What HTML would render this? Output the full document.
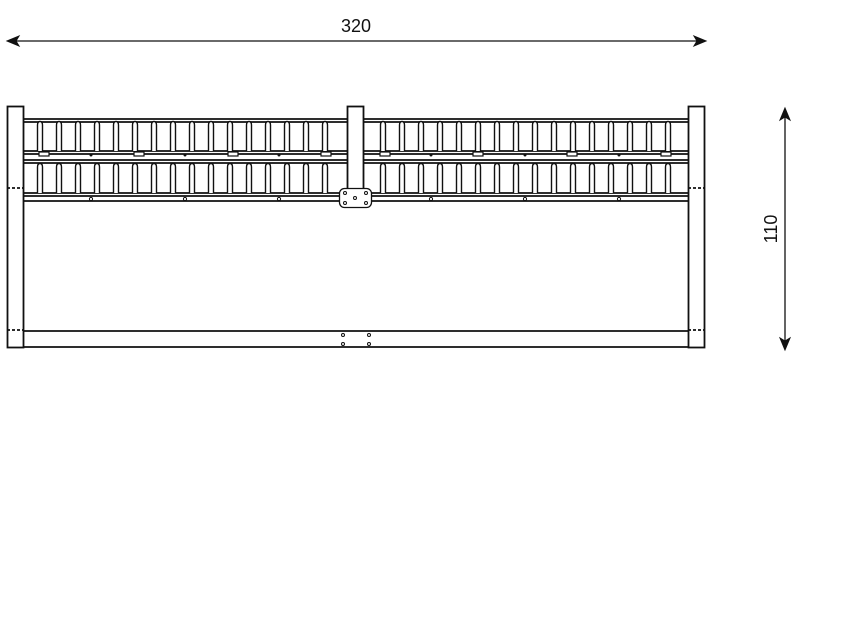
<!DOCTYPE html>
<html><head><meta charset="utf-8"><style>
html,body{margin:0;padding:0;background:#fff;width:844px;height:631px;overflow:hidden}
svg{display:block}
text{font-family:"Liberation Sans",sans-serif;font-size:18px;fill:#111}
</style></head><body>
<svg width="844" height="631" viewBox="0 0 844 631" xmlns="http://www.w3.org/2000/svg">
<defs>
<g id="s">
<path d="M0.5 151 V125 Q0.5 121.5 3 121.5 Q5.5 121.5 5.5 125 V151" fill="#fff" stroke="#111" stroke-width="1.4"/>
<path d="M0.5 193 V167 Q0.5 163.5 3 163.5 Q5.5 163.5 5.5 167 V193" fill="#fff" stroke="#111" stroke-width="1.4"/>
</g>
</defs>
<g stroke="#111" fill="none">
<line x1="9" y1="41" x2="704" y2="41" stroke-width="1.3"/>
<path d="M7 41 L19 36 L16 41 L19 46 Z M706 41 L694 36 L697 41 L694 46 Z" fill="#111"/>
<line x1="785" y1="110" x2="785" y2="348" stroke-width="1.3"/>
<path d="M785 108 L780 120 L785 117 L790 120 Z M785 350 L780 338 L785 341 L790 338 Z" fill="#111"/>
<g stroke-width="1.8">
<line x1="23" y1="119" x2="688" y2="119"/>
<line x1="23" y1="122" x2="688" y2="122"/>
<line x1="23" y1="151" x2="688" y2="151"/>
<line x1="23" y1="154" x2="688" y2="154"/>
<line x1="23" y1="160" x2="688" y2="160"/>
<line x1="23" y1="163" x2="688" y2="163"/>
<line x1="23" y1="193" x2="688" y2="193"/>
<line x1="23" y1="196" x2="688" y2="196"/>
<line x1="23" y1="201" x2="688" y2="201"/>
</g>
</g>
<use href="#s" x="37"/><use href="#s" x="56"/><use href="#s" x="75"/><use href="#s" x="94"/>
<use href="#s" x="113"/><use href="#s" x="132"/><use href="#s" x="151"/><use href="#s" x="170"/>
<use href="#s" x="189"/><use href="#s" x="208"/><use href="#s" x="227"/><use href="#s" x="246"/>
<use href="#s" x="265"/><use href="#s" x="284"/><use href="#s" x="303"/><use href="#s" x="322"/>
<use href="#s" x="380"/><use href="#s" x="399"/><use href="#s" x="418"/><use href="#s" x="437"/>
<use href="#s" x="456"/><use href="#s" x="475"/><use href="#s" x="494"/><use href="#s" x="513"/>
<use href="#s" x="532"/><use href="#s" x="551"/><use href="#s" x="570"/><use href="#s" x="589"/>
<use href="#s" x="608"/><use href="#s" x="627"/><use href="#s" x="646"/><use href="#s" x="665"/>
<g stroke="#111" fill="none" stroke-width="1.8">
<g fill="#fff" stroke-width="1.2">
<rect x="39" y="152" width="10" height="4"/><rect x="134" y="152" width="10" height="4"/>
<rect x="228" y="152" width="10" height="4"/><rect x="321" y="152" width="10" height="4"/>
<rect x="380" y="152" width="10" height="4"/><rect x="473" y="152" width="10" height="4"/>
<rect x="567" y="152" width="10" height="4"/><rect x="661" y="152" width="10" height="4"/>
</g>
<g fill="#111" stroke="none">
<circle cx="91" cy="155" r="1.5"/><circle cx="185" cy="155" r="1.5"/><circle cx="279" cy="155" r="1.5"/>
<circle cx="431" cy="155" r="1.5"/><circle cx="525" cy="155" r="1.5"/><circle cx="619" cy="155" r="1.5"/>
</g>
<g stroke-width="1">
<circle cx="91" cy="199" r="1.6"/><circle cx="185" cy="199" r="1.6"/><circle cx="279" cy="199" r="1.6"/>
<circle cx="431" cy="199" r="1.6"/><circle cx="525" cy="199" r="1.6"/><circle cx="619" cy="199" r="1.6"/>
</g>
<rect x="7.5" y="106.5" width="16" height="241" fill="#fff"/>
<rect x="688.5" y="106.5" width="16" height="241" fill="#fff"/>
<rect x="347.5" y="106.5" width="16" height="94" fill="#fff"/>
<line x1="7" y1="188" x2="23" y2="188" stroke-dasharray="3 2"/>
<line x1="688" y1="188" x2="704" y2="188" stroke-dasharray="3 2"/>
<line x1="7" y1="330" x2="23" y2="330" stroke-dasharray="3 2"/>
<line x1="688" y1="330" x2="704" y2="330" stroke-dasharray="3 2"/>
<rect x="339.5" y="188.5" width="32" height="19" rx="5" fill="#fff" stroke-width="1.3"/>
<g stroke-width="1"><circle cx="345" cy="193" r="1.5"/><circle cx="366" cy="193" r="1.5"/><circle cx="345" cy="203" r="1.5"/><circle cx="366" cy="203" r="1.5"/><circle cx="355" cy="198" r="1.5"/></g>
<line x1="23" y1="331" x2="688" y2="331"/>
<line x1="23" y1="347" x2="688" y2="347"/>
<g stroke-width="1"><circle cx="343" cy="335" r="1.5"/><circle cx="369" cy="335" r="1.5"/><circle cx="343" cy="344" r="1.5"/><circle cx="369" cy="344" r="1.5"/></g>
</g>
<text x="356" y="32" text-anchor="middle">320</text>
<text x="0" y="0" text-anchor="middle" transform="translate(777 229) rotate(-90)">110</text>
</svg>
</body></html>
